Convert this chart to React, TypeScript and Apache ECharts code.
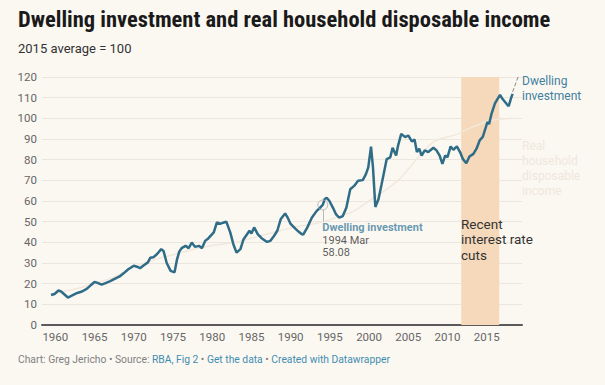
import React, { useEffect, useRef } from "react";
import * as echarts from "echarts";

const dwellingYears = [
  1959.45, 1959.9, 1960.4, 1960.7, 1961.6, 1962.1, 1962.8, 1963.4, 1964.0, 1964.5,
  1965.0, 1965.3, 1965.9, 1966.4, 1967.0, 1967.5, 1968.2, 1968.7, 1969.3, 1970.0,
  1970.4, 1970.8, 1971.2, 1971.8, 1972.1, 1972.5, 1972.95, 1973.5, 1973.8, 1974.2,
  1974.7, 1975.2, 1975.5, 1975.8, 1976.1, 1976.6, 1977.0, 1977.4, 1977.8, 1978.3,
  1978.7, 1979.1, 1979.5, 1980.0, 1980.2, 1980.6, 1981.0, 1981.4, 1981.8, 1982.3,
  1982.7, 1983.1, 1983.6, 1984.0, 1984.4, 1984.75, 1985.0, 1985.35, 1985.8, 1986.3,
  1987.0, 1987.4, 1987.9, 1988.3, 1988.75, 1989.3, 1989.6, 1990.0, 1990.6, 1991.0,
  1991.4, 1991.6, 1992.1, 1992.7, 1993.3, 1993.85, 1994.1, 1994.35, 1994.6, 1994.95,
  1995.4, 1995.8, 1996.2, 1996.65, 1997.1, 1997.6, 1998.1, 1998.6, 1999.2, 1999.6,
  1999.9, 2000.25, 2000.5, 2000.8, 2001.2, 2001.6, 2002.25, 2002.7, 2003.0, 2003.45,
  2003.7, 2004.1, 2004.6, 2005.0, 2005.45, 2005.8, 2006.1, 2006.4, 2006.7, 2007.1,
  2007.55, 2008.2, 2008.6, 2009.0, 2009.35, 2009.7, 2010.0, 2010.4, 2010.75, 2011.2,
  2011.6, 2011.95, 2012.4, 2012.8, 2013.3, 2013.7, 2014.1, 2014.5, 2014.8, 2015.1,
  2015.3, 2015.6, 2016.05, 2016.35, 2016.7, 2017.05, 2017.55, 2017.8, 2018.1, 2018.3,
];
const dwellingValues = [
  14.5, 15, 16.7, 16.3, 13.3, 14.2, 15.5, 16.2, 17.5, 19.2,
  20.8, 20.5, 19.5, 20.3, 21.2, 22.2, 23.5, 25, 27, 28.7,
  28.2, 27.5, 28.7, 30.3, 32.5, 32.8, 34.2, 36.7, 35.8, 30,
  26.2, 25.5, 31.5, 35.5, 37.2, 38.3, 37.2, 39.9, 37.8, 38.3,
  37.2, 40.7, 41.9, 44, 44.8, 49.7, 48.9, 49.5, 50, 44.8,
  39.1, 35, 36.7, 41.5, 43.7, 45.6, 44.3, 47.2, 44, 42,
  40.2, 40.7, 43.2, 45.6, 51.3, 54, 52.1, 48.9, 46.6, 45.2,
  44, 43.7, 47, 51.9, 55.1, 57.1, 58.08, 61, 61.6, 60,
  56.7, 53.5, 51.9, 52.7, 56.7, 65.7, 67.3, 69.8, 70.1, 73,
  76.3, 86.3, 76.3, 57.1, 60.8, 68.1, 80.3, 81.1, 85.7, 82,
  86.8, 92.5, 90.9, 91.7, 88.8, 89.8, 83.7, 85.3, 82, 84.5,
  83.7, 85.8, 84.5, 82, 78, 82, 81.2, 86.4, 84.8, 86.4,
  83.7, 80.4, 78.3, 81.5, 82.8, 85.3, 89.3, 91, 94.6, 98.3,
  97.2, 102, 107.2, 109.2, 111.3, 109.2, 106.9, 105.9, 109.7, 111.8,
];

const incomeYears = [
  1959.5, 1962, 1965, 1968, 1970, 1973, 1975, 1978, 1980, 1983, 1985, 1988, 1990,
  1993, 1995, 1998, 2000, 2002, 2004, 2006, 2008, 2009, 2011, 2013, 2015, 2016.5, 2018.3,
];
const incomeValues = [
  15, 17, 20, 24, 28, 32, 34, 37, 38.5, 40, 42, 45, 47,
  49, 51, 55, 60, 65, 71, 80, 88, 90, 92, 95.5, 98.5, 99.5, 100,
];

const xTickLabels = [1960, 1965, 1970, 1975, 1980, 1985, 1990, 1995, 2000, 2005, 2010, 2015];
const rateCutPeriod = [2011.75, 2016.6];
const annotationPoint = { year: 1994.1, value: 58.08, label: "1994 Mar" };

const DWELL = "#2f6c87";
const FONT = "Roboto, 'Noto Sans', sans-serif";

export default function App() {
  const ref = useRef<HTMLDivElement>(null);
  useEffect(() => {
    if (!ref.current) return;
    const chart = echarts.init(ref.current, undefined, { renderer: "svg" });
    const dwelling = dwellingYears.map((y, i) => [y, dwellingValues[i]]);
    const income = incomeYears.map((y, i) => [y, incomeValues[i]]);
    const last = dwelling[dwelling.length - 1];
    chart.setOption({
      animation: false,
      backgroundColor: "#fbf8f2",
      textStyle: { fontFamily: FONT },
      grid: { left: 42, right: 83, top: 77, bottom: 60 },
      xAxis: {
        type: "value",
        min: 1958.3,
        max: 2019.5,
        splitLine: { show: false },
        axisLine: { show: true, onZero: false, lineStyle: { color: "#5a5a5a", width: 2 } },
        axisTick: { show: false },
        axisLabel: {
          customValues: xTickLabels,
          color: "#666",
          fontSize: 11.5,
          fontFamily: FONT,
          margin: 6,
          formatter: (v: number) => String(Math.round(v)),
        },
      },
      yAxis: {
        type: "value",
        min: 0,
        max: 120,
        interval: 10,
        axisLine: { show: false },
        axisTick: { show: false },
        splitLine: { lineStyle: { color: "#ebe7df", width: 1 } },
        axisLabel: { color: "#666", fontSize: 11.5, fontFamily: FONT, margin: 5 },
      },
      graphic: [
        {
          type: "text",
          left: 18,
          top: 7,
          z: 100,
          style: {
            text: "Dwelling investment and real household disposable income",
            fontSize: 22.5,
            fontWeight: "bold",
            fill: "#1a1a1a",
            fontFamily: "'Roboto Condensed', Roboto, sans-serif",
          },
        },
        {
          type: "text",
          left: 18,
          top: 42,
          z: 100,
          style: { text: "2015 average = 100", fontSize: 13, fill: "#333", fontFamily: FONT },
        },
        {
          type: "text",
          left: 461,
          top: 216,
          z: 100,
          style: {
            text: "Recent\ninterest rate\ncuts",
            fontSize: 13.5,
            lineHeight: 15.5,
            fill: "#333",
            fontFamily: FONT,
          },
        },
        {
          type: "text",
          left: 522,
          top: 73,
          z: 100,
          style: {
            text: "Dwelling\ninvestment",
            fontSize: 12,
            lineHeight: 15,
            fill: "#3f7fa0",
            fontFamily: FONT,
          },
        },
        {
          type: "text",
          left: 522,
          top: 138,
          z: 100,
          style: {
            text: "Real\nhousehold\ndisposable\nincome",
            fontSize: 12,
            lineHeight: 15,
            fill: "#efe7dc",
            fontFamily: FONT,
          },
        },
        {
          type: "text",
          left: 18,
          top: 354,
          z: 100,
          style: {
            text:
              "{g|Chart: Greg Jericho • Source: }{b|RBA, Fig 2}{g| • }{b|Get the data}{g| • }{b|Created with Datawrapper}",
            rich: {
              g: { fill: "#808080", fontSize: 10.3, fontFamily: FONT },
              b: { fill: "#3f8db0", fontSize: 10.3, fontFamily: FONT },
            },
          },
        },
      ],
      series: [
        {
          type: "line",
          name: "Real household disposable income",
          data: income,
          showSymbol: false,
          smooth: 0.2,
          z: 1,
          lineStyle: { color: "#f1e8dc", width: 1.5 },
          markArea: {
            silent: true,
            itemStyle: { color: "#f6d9bb" },
            data: [[{ xAxis: rateCutPeriod[0], yAxis: 0 }, { xAxis: rateCutPeriod[1], yAxis: 120 }]],
          },
        },
        {
          type: "line",
          name: "Dwelling investment",
          data: dwelling,
          showSymbol: false,
          z: 3,
          lineStyle: { color: DWELL, width: 2.5 },
          markLine: {
            silent: true,
            symbol: "none",
            label: { show: false },
            lineStyle: { color: "#8a8a8a", type: "dashed", width: 1 },
            data: [
              [
                { coord: [last[0], last[1] + 1] },
                { coord: [2019.0, 120] },
              ],
              [
                { coord: [annotationPoint.year, annotationPoint.value - 2.5], lineStyle: { type: "solid", color: "#b8b8b8" } },
                { coord: [annotationPoint.year, 50], lineStyle: { type: "solid", color: "#b8b8b8" } },
              ],
            ],
          },
        },
        {
          type: "scatter",
          data: [[annotationPoint.year, annotationPoint.value]],
          symbol: "circle",
          symbolSize: 10,
          z: 4,
          itemStyle: { color: "rgba(0,0,0,0)", borderColor: "#aaa", borderWidth: 1 },
          label: {
            show: true,
            position: [5, 22],
            align: "left",
            verticalAlign: "top",
            formatter: () =>
              `{t|Dwelling investment}\n{d|${annotationPoint.label}}\n{d|${annotationPoint.value.toFixed(2)}}`,
            rich: {
              t: { color: "#3f7fa0", fontWeight: "bold", fontSize: 11, lineHeight: 12.5, fontFamily: FONT },
              d: { color: "#333", fontSize: 11, lineHeight: 12.5, fontFamily: FONT },
            },
          },
        },
      ],
    });
    return () => chart.dispose();
  }, []);
  return <div ref={ref} style={{ width: 605, height: 385, position: "absolute", left: 0, top: 0 }} />;
}
